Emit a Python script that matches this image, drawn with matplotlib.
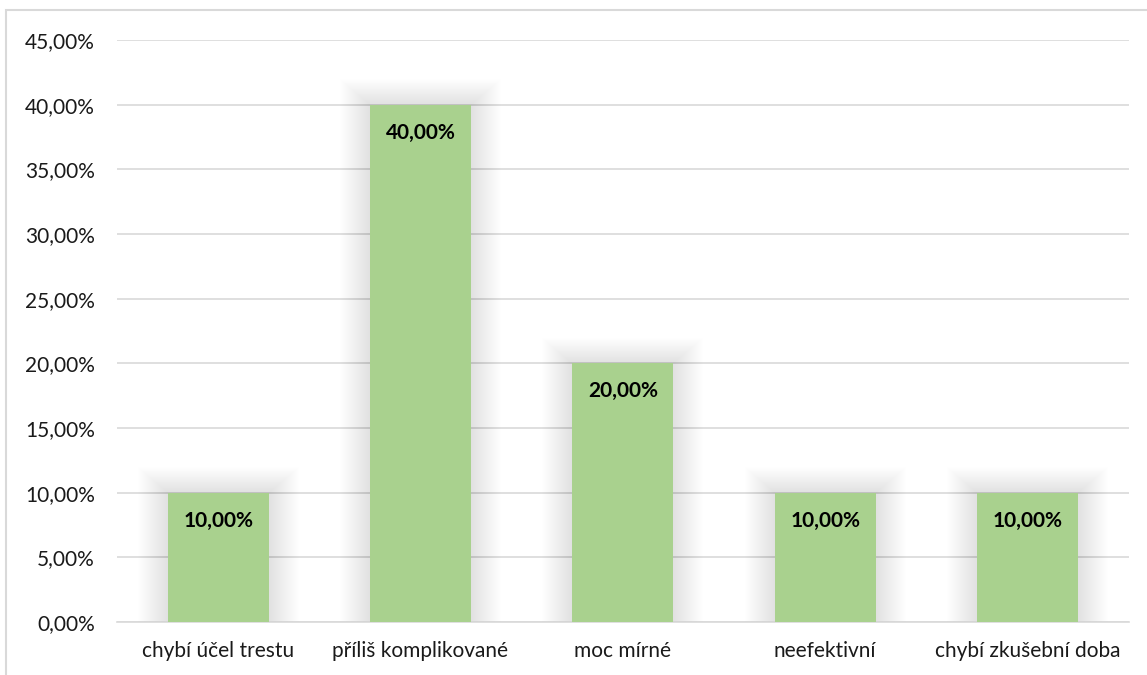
import matplotlib.pyplot as plt
from matplotlib.patches import Rectangle
from matplotlib.ticker import FuncFormatter

# Data
categories = ["chybí účel trestu", "příliš komplikované", "moc mírné", "neefektivní", "chybí zkušební doba"]
values = [10.0, 40.0, 20.0, 10.0, 10.0]
yTicks = [0, 5, 10, 15, 20, 25, 30, 35, 40, 45]

barColor = "#A9D18E"
plt.rcParams['font.family'] = ['Lato', 'DejaVu Sans']

fig = plt.figure(figsize=(11.47, 6.75), dpi=100)
ax = fig.add_axes([0.102, 0.0785, 0.882, 0.8622])

# outer chart border (only top and left visible in the reference)
fig.add_artist(Rectangle((6 / 1147, -0.1), 1.2, 1.1 - 10 / 675, transform=fig.transFigure,
                         fill=False, edgecolor="#D9D9D9", linewidth=1.5))

xPos = list(range(len(categories)))
barWidth = 0.5

ax.set_ylim(0, 45)
ax.set_xlim(-0.5, len(categories) - 0.5)

# soft shadow round each bar, pads given in pixels
pxX = 1.0 / 202.4
pxY = 45.0 / 582.0
for x, v in zip(xPos, values):
    for p in range(1, 31):
        ax.add_patch(Rectangle((x - barWidth / 2 - p * pxX, 0), barWidth + 2 * p * pxX, v + p * pxY * 0.85,
                               facecolor="black", alpha=0.003, edgecolor="none", zorder=1))

ax.bar(xPos, values, width=barWidth, color=barColor, zorder=3)

for x, v in zip(xPos, values):
    ax.text(x, v - 2.15, f"{v:.2f}%".replace(".", ","), ha="center", va="center",
            fontsize=15, fontweight="bold", color="black", zorder=4)

ax.set_yticks(yTicks)
ax.yaxis.set_major_formatter(FuncFormatter(lambda y, _: f"{y:.2f}%".replace(".", ",")))
ax.set_xticks(xPos)
ax.set_xticklabels(categories)
ax.grid(axis="y", color="#D9D9D9", linewidth=1.2, zorder=0)
ax.set_axisbelow(True)
for side in ["top", "right", "left"]:
    ax.spines[side].set_visible(False)
ax.spines["bottom"].set_color("#D9D9D9")
ax.spines["bottom"].set_linewidth(1.2)
ax.tick_params(axis="both", length=0, labelsize=15, colors="#1a1a1a")
ax.tick_params(axis="x", pad=14)
ax.tick_params(axis="y", pad=16)

fig.savefig("out.png", dpi=100)
